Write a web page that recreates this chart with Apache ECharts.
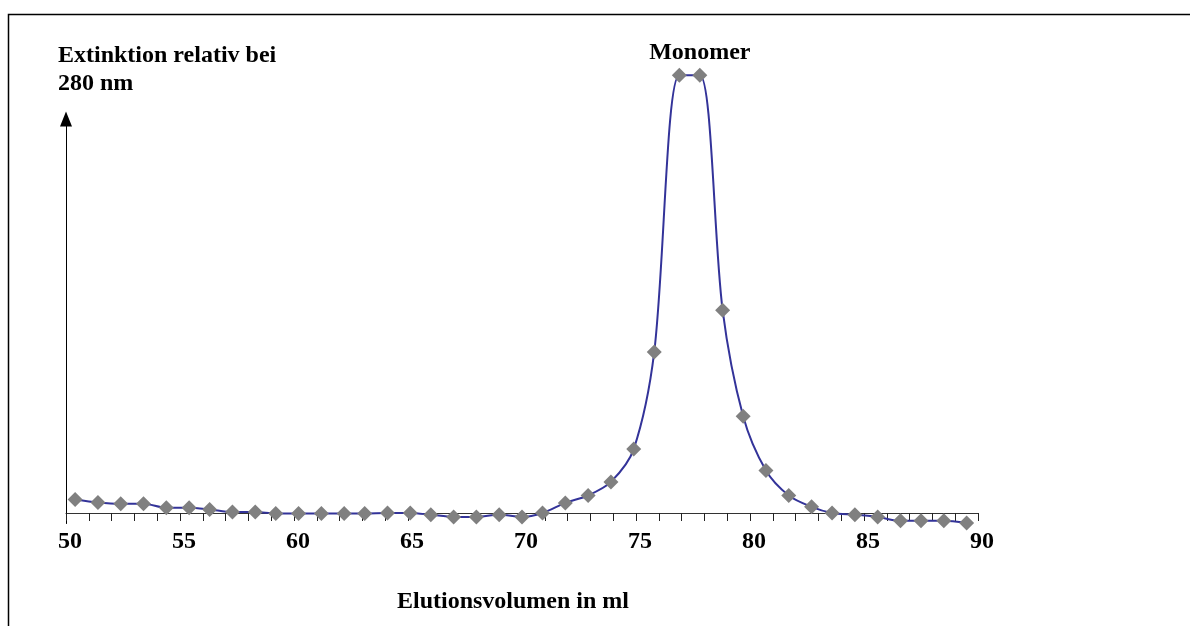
<!DOCTYPE html>
<html>
<head>
<meta charset="utf-8">
<script src="https://cdn.jsdelivr.net/npm/echarts@6/dist/echarts.min.js"></script>
<style>
  html, body { margin: 0; padding: 0; background: #fff; }
  #chart { width: 1190px; height: 626px; }
</style>
</head>
<body>
<div id="chart"></div>
<script>
// Elutionsvolumen (ml) der Messpunkte
var volumen = [50.4, 51.4, 52.4, 53.4, 54.4, 55.4, 56.3, 57.3, 58.3, 59.2,
	60.2, 61.2, 62.2, 63.1, 64.1, 65.1, 66.0, 67.0, 68.0, 69.0,
	70.0, 70.9, 71.9, 72.9, 73.9, 74.9, 75.8, 76.9, 77.8, 78.8,
	79.7, 80.7, 81.7, 82.7, 83.6, 84.6, 85.6, 86.6, 87.5, 88.5, 89.5];
// Extinktion relativ (Peak = 100)
var extinktion = [3.1, 2.4, 2.1, 2.1, 1.2, 1.2, 0.8, 0.2, 0.2, -0.1,
	-0.1, -0.1, -0.1, -0.1, 0, 0, -0.4, -0.9, -0.9, -0.4,
	-0.9, 0, 2.3, 4.0, 7.1, 14.6, 36.8, 100, 100, 46.3,
	22.1, 9.7, 4.0, 1.4, 0, -0.4, -0.9, -1.8, -1.8, -1.8, -2.3];
var xTicks = [50, 55, 60, 65, 70, 75, 80, 85, 90];
var peakIndex = 28;
var peakLabel = 'Monomer';

var fontFam = '"Liberation Serif", "Times New Roman", serif';

var points = [];
for (var i = 0; i < volumen.length; i++) {
	var p = { value: [volumen[i], extinktion[i]] };
	if (i === peakIndex) {
		p.label = {
			show: true,
			position: 'top',
			distance: 3,
			formatter: peakLabel,
			fontFamily: fontFam,
			fontWeight: 'bold',
			fontSize: 24,
			color: '#000'
		};
	}
	points.push(p);
}

var chart = echarts.init(document.getElementById('chart'));
var option = {
	animation: false,
	backgroundColor: '#fff',
	title: {
		text: 'Extinktion relativ bei\n280 nm',
		left: 58,
		top: 42,
		padding: 0,
		textStyle: {
			fontFamily: fontFam,
			fontWeight: 'bold',
			fontSize: 24,
			lineHeight: 28,
			color: '#000'
		}
	},
	graphic: [{
		type: 'rect',
		left: 6,
		top: 12,
		silent: true,
		shape: { width: 1300, height: 700 },
		style: { fill: 'none', stroke: '#000', lineWidth: 1.5 }
	}],
	grid: {
		left: 66,
		right: 212,
		top: 119,
		bottom: 102.5,
		outerBoundsMode: 'none',
		containLabel: false
	},
	xAxis: {
		type: 'value',
		min: 50,
		max: 90,
		interval: 1,
		name: 'Elutionsvolumen in ml',
		nameLocation: 'middle',
		nameGap: 66,
		nameTextStyle: {
			fontFamily: fontFam,
			fontWeight: 'bold',
			fontSize: 24,
			color: '#000',
			padding: [0, 18, 0, 0]
		},
		axisLine: { onZero: true, lineStyle: { color: '#333', width: 1 } },
		axisTick: { show: true, length: 8, lineStyle: { color: '#222' } },
		axisLabel: {
			margin: 6,
			fontFamily: fontFam,
			fontWeight: 'bold',
			fontSize: 24,
			color: '#000',
			padding: [0, 0, 0, 8],
			formatter: function (v) {
				return xTicks.indexOf(v) >= 0 ? String(v) : '';
			}
		},
		splitLine: { show: false }
	},
	yAxis: {
		type: 'value',
		min: -2.4,
		max: 90,
		axisLine: {
			show: true,
			symbol: ['none', 'triangle'],
			symbolSize: [12, 15],
			lineStyle: { color: '#000', width: 1 }
		},
		axisTick: { show: false },
		axisLabel: { show: false },
		splitLine: { show: false }
	},
	series: [{
		type: 'line',
		data: points,
		smooth: 0.3,
		clip: false,
		symbol: 'diamond',
		symbolSize: 15,
		lineStyle: { color: '#333399', width: 2 },
		itemStyle: { color: '#808080', borderWidth: 0 }
	}]
};
chart.setOption(option);
</script>
</body>
</html>
